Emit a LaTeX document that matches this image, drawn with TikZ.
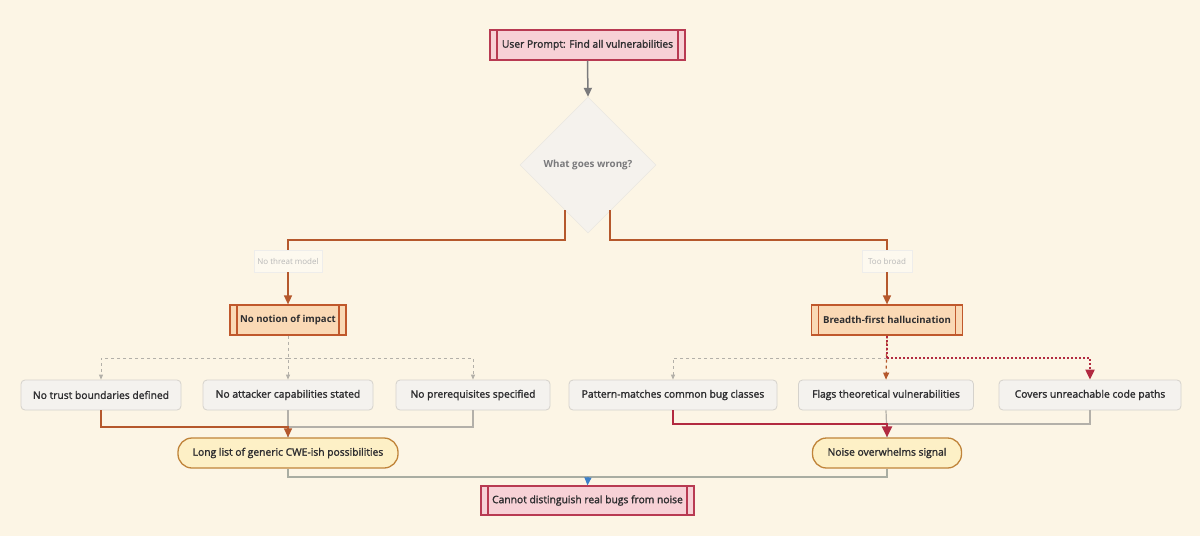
\documentclass[tikz,border=0pt]{standalone}
\usepackage{fontspec}
\setmainfont{Open Sans}
\newfontfamily\medfont{Open Sans}[FakeBold=1.7]
\usetikzlibrary{shapes.geometric,arrows.meta,calc}
\definecolor{bgc}{HTML}{FCF5E5}
\definecolor{pinkf}{HTML}{F7D1D6}
\definecolor{pinkd}{HTML}{B83A52}
\definecolor{peachf}{HTML}{FAD9B5}
\definecolor{peachd}{HTML}{C0582C}
\definecolor{yelf}{HTML}{FDF0C6}
\definecolor{yeld}{HTML}{C0843A}
\definecolor{grayf}{HTML}{F4F2EE}
\definecolor{grayd}{HTML}{D5D2CC}
\definecolor{txt}{HTML}{2E2E30}
\definecolor{brownc}{HTML}{B5582C}
\definecolor{redc}{HTML}{B22A40}
\definecolor{grayc}{HTML}{B3B0A9}
\definecolor{dgray}{HTML}{7A7A7C}
\definecolor{bluec}{HTML}{3C7FC8}
\definecolor{botc}{HTML}{A9ADA2}
\tikzset{
  base/.style={font=\fontsize{10.3}{12}\medfont, text=txt, inner sep=0pt, align=center},
  subr/.style={base, rectangle, minimum height=30pt, line width=1.2pt,
    path picture={
      \draw[line width=1.2pt,#1] ([xshift=7pt]path picture bounding box.north west) -- ([xshift=7pt]path picture bounding box.south west);
      \draw[line width=1.2pt,#1] ([xshift=-7pt]path picture bounding box.north east) -- ([xshift=-7pt]path picture bounding box.south east);}},
  pinkbox/.style={subr=pinkd, draw=pinkd, fill=pinkf},
  peachbox/.style={subr=peachd, draw=peachd, fill=peachf, font=\fontsize{9.6}{12}\selectfont\bfseries},
  graybox/.style={base, rectangle, rounded corners=4pt, draw=grayd, fill=grayf, line width=0.8pt, minimum height=30pt},
  oval/.style={base, rectangle, rounded corners=14pt, draw=yeld, fill=yelf, line width=1.3pt, minimum height=30pt},
  lab/.style={base, rectangle, fill=bgc!60!white, draw=grayd!40, font=\fontsize{8}{9}\selectfont, text=black!28, minimum height=22pt},
  conn/.style={line width=1.5pt},
  tip/.style={-{Triangle[width=8pt,length=9pt]}},
  smalltip/.style={-{Triangle[width=4pt,length=5pt]}},
}
\begin{document}
\begin{tikzpicture}[x=1pt,y=-1pt]
\fill[bgc] (0,0) rectangle (1200,536);
\useasboundingbox (0,0) rectangle (1200,536);

% nodes
\node[pinkbox, minimum width=195pt] (top) at (587.5,45) {User Prompt: Find all vulnerabilities};
\node[diamond, draw=grayd!60, fill=grayf!90!bgc, minimum width=136pt, minimum height=136pt, inner sep=0pt,
  font=\fontsize{9.8}{12}\selectfont\bfseries, text=dgray] (d) at (588,165) {What goes wrong?};
\node[lab, minimum width=68pt] (l1) at (288,261) {No threat model};
\node[lab, minimum width=50pt] (l2) at (887,261) {Too broad};
\node[peachbox, minimum width=116pt] (n1) at (288,320) {No notion of impact};
\node[peachbox, minimum width=151pt] (n2) at (887,320) {Breadth-first hallucination};
\node[graybox, minimum width=160pt] (b1) at (101,395) {No trust boundaries defined};
\node[graybox, minimum width=170pt] (b2) at (288,395) {No attacker capabilities stated};
\node[graybox, minimum width=154pt] (b3) at (473,395) {No prerequisites specified};
\node[graybox, minimum width=208pt] (b4) at (673,395) {Pattern-matches common bug classes};
\node[graybox, minimum width=175pt] (b5) at (886,395) {Flags theoretical vulnerabilities};
\node[graybox, minimum width=182pt] (b6) at (1090,395) {Covers unreachable code paths};
\node[oval, minimum width=220pt] (o1) at (288,453) {Long list of generic CWE-ish possibilities};
\node[oval, minimum width=149pt] (o2) at (887,453) {Noise overwhelms signal};
\node[pinkbox, minimum width=213pt, minimum height=29pt] (bot) at (587.5,500.5) {Cannot distinguish real bugs from noise};

% helper coordinates
\coordinate (dl) at ($(d.center)+(-23,45)$);
\coordinate (dr) at ($(d.center)+(22,45)$);
\coordinate (s1) at (288,358);
\coordinate (s2) at (887,358);
\coordinate (j1) at (288,427);
\coordinate (j2) at (887,424);
\coordinate (j3) at (588,477);

% top arrow
\draw[conn, dgray, tip] (top.south) -- (d.north);

% diamond branches
\draw[conn, brownc] (dl) -- ++(0,30) -| (l1.north);
\draw[conn, brownc] (dr) -- ++(0,30) -| (l2.north);
\draw[conn, brownc, tip] (l1.south) -- (n1.north);
\draw[conn, brownc, tip] (l2.south) -- (n2.north);

% left dashed fan
\draw[grayc, line width=0.9pt, dashed, smalltip] (n1.south) -- (b2.north);
\draw[grayc, line width=0.9pt, dashed, smalltip] (s1) -| (b1.north);
\draw[grayc, line width=0.9pt, dashed, smalltip] (s1) -| (b3.north);

% right fan
\draw[grayc, line width=0.9pt, dashed, smalltip] (s2) -| (b4.north);
\draw[brownc, line width=1.2pt, dashed, -{Triangle[width=6pt,length=7pt]}] (n2.south) -- (b5.north);
\draw[redc, line width=2pt, dotted] (n2.south) -- (s2);
\draw[redc, line width=2pt, dotted, -{Triangle[width=9pt,length=10pt]}] (s2) -| (b6.north);

% left merge
\draw[grayc, line width=1.2pt] (b3.south) |- (j1);
\draw[grayc, line width=1.2pt] (b2.south) -- (o1.north);
\draw[brownc, line width=1.5pt, tip] (b1.south) |- (j1) -- (o1.north);

% right merge
\draw[grayc, line width=1.2pt] (b6.south) |- (j2);
\draw[grayc, line width=1.2pt] (b5.south) -- (o2.north);
\draw[redc, line width=2.2pt, -{Triangle[width=10pt,length=11pt]}] (b4.south) |- (j2) -- (o2.north);

% bottom merge
\draw[botc, line width=1.2pt] (o1.south) |- (j3);
\draw[botc, line width=1.2pt] (o2.south) |- (j3);
\draw[bluec, line width=1.2pt, -{Triangle[width=7pt,length=8pt]}] (j3) -- (bot.north);
\end{tikzpicture}
\end{document}
